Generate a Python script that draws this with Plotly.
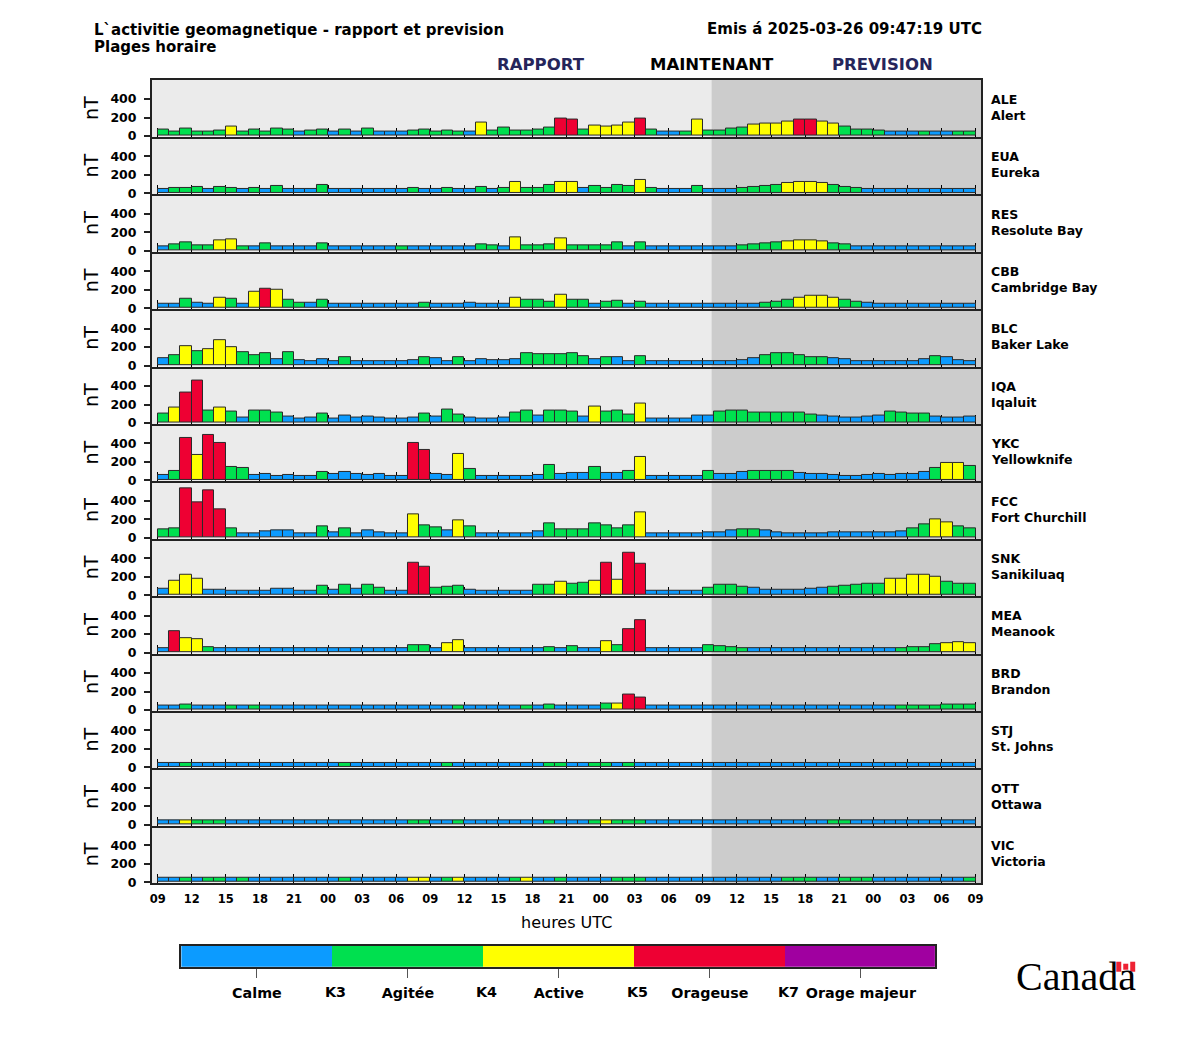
import plotly.graph_objects as go

CODES = ["ALE", "EUA", "RES", "CBB", "BLC", "IQA", "YKC", "FCC", "SNK", "MEA", "BRD", "STJ", "OTT", "VIC"]
NAMES = ["Alert", "Eureka", "Resolute Bay", "Cambridge Bay", "Baker Lake", "Iqaluit", "Yellowknife",
         "Fort Churchill", "Sanikiluaq", "Meanook", "Brandon", "St. Johns", "Ottawa", "Victoria"]
HOURS = ["09", "12", "15", "18", "21", "00", "03", "06", "09", "12", "15", "18", "21", "00", "03", "06",
         "09", "12", "15", "18", "21", "00", "03", "06", "09"]
NOW_POS = 48.77
ALE = [70,50,80,50,50,60,100,50,70,50, 80,70,50,60,70,50,70,50,80,50, 50,50,60,70,50,60,50,50,145,60,
       90,60,60,75,90,190,180,65,110,100, 110,150,190,65,50,50,50,175,60,60, 80,90,120,130,140,160,180,180,160,130,
       100,75,65,55,50,50,50,50,50,50,50,50]
ALE_K = "GGGGGGYGGG GGBGGBGBGB BBGGGGGBYG GGGGGRRGYY YYRGBBGYGG GGYYYYRRYY GGGGBBBGBB GG"
EUA = [50,60,60,70,50,70,60,50,60,50, 80,50,50,50,90,50,50,50,50,50, 50,50,60,50,50,60,50,50,70,50,
       60,125,60,60,90,125,125,60,85,60, 90,85,145,60,50,50,50,85,50,50, 50,60,70,85,90,110,125,125,115,90,
       70,60,50,50,50,50,50,50,50,50,50,50]
EUA_K = "BGGGBGGBGB GBBBGBBBBB BBGBBGBBGB GYGGGYYBGG GGYGBBBGBB BGGGGYYYYG GGBBBBBBBB BB"
RES = [50,70,90,60,60,115,125,50,50,85, 50,50,50,50,85,50,50,50,50,50, 50,50,50,50,50,50,50,50,70,60,
       50,145,60,60,70,135,60,60,60,60, 95,50,95,50,50,50,50,50,50,50, 50,60,70,80,95,105,115,115,105,85,
       65,50,50,50,50,50,50,50,50,50,50,50]
RES_K = "BGGGGYYGBG BBBBGBBBBB BGBBBBBBGG BYGGGYGGGG GBGBBBBBBB BGGGGYYYYG GBBBBBBBBB BB"
CBB = [50,50,105,60,50,115,105,50,180,215, 195,95,60,60,95,50,50,50,50,50, 50,50,50,60,50,50,50,60,50,50,
       50,115,95,95,70,150,95,95,50,65, 85,50,75,50,50,50,50,50,50,50, 50,50,50,60,75,95,115,130,130,115,
       95,75,55,50,50,50,50,50,50,50,50,50]
CBB_K = "BBGBBYGBYR YGGBGBBBBB BBBGBBBBBB BYGGGYGGBG GBGBBBBBBB BBBGGGYYYY GGBBBBBBBB BB"
BLC = [80,110,210,155,175,275,195,145,110,135, 70,145,60,50,70,50,90,50,50,50, 50,50,60,90,80,50,90,50,70,60,
       60,70,130,120,125,125,135,105,70,95, 95,50,100,50,50,50,50,50,50,50, 50,60,80,115,135,135,115,95,95,85,
       70,50,50,50,50,50,50,70,105,95,60,50]
BLC_K = "BGYGYYYGGG BGBBBBGBBB BBBGBBGBBB BBGGGGGGBG BBGBBBBBBB BBBGGGGGGB BBBBBBBBGB BB"
IQA = [105,170,325,460,130,170,125,55,140,130, 115,70,50,60,100,50,85,60,75,60, 50,50,60,105,75,150,95,60,50,50,
       60,115,140,85,140,130,120,65,175,120, 140,95,215,50,50,50,50,85,85,120, 140,130,110,110,110,110,110,95,85,75,
       55,55,65,85,120,110,100,100,65,55,55,65]
IQA_K = "GYRRGYGBGG GBBBGBBBBB BBBGBGGBBB BGGBGGGBYG GGYBBBBBBG GGGGGGGGBB BBBBGGGGBB BB"
YKC = [60,100,460,270,490,400,150,135,55,70, 50,60,50,50,95,70,90,70,60,70, 50,50,405,330,70,60,290,125,50,50,
       50,50,50,60,165,65,85,85,150,85, 85,105,250,50,50,50,50,50,105,65, 65,90,105,105,105,105,85,65,65,55,
       50,50,60,65,55,65,70,90,135,190,190,155]
YKC_K = "BGRYRRGGBB BBBBGBBBBB BBRRBBYGBB BBBBGBBBGB BGYBBBBBGB BBGGGGBBBB BBBBBBBBGY YG"
FCC = [90,105,530,385,510,310,105,50,50,70, 80,80,50,50,125,60,105,50,85,60, 50,50,255,140,115,85,190,125,50,50,
       50,50,50,70,160,95,95,95,160,140, 105,140,280,50,50,50,50,50,60,60, 85,95,95,85,60,50,50,50,50,60,
       60,60,60,60,60,75,105,150,205,170,125,105]
FCC_K = "GGRRRRGBBB BBBBGBGBBB BBYGGBYGBB BBBBGGGGGG GGYBBBBBBB BGGBBBBBBB BBBBBBGGYY GG"
SNK = [70,160,225,180,60,60,50,50,50,50, 70,70,50,50,105,60,115,70,115,80, 50,50,355,310,80,90,105,60,50,50,
       50,50,50,110,110,150,125,130,155,350, 165,460,340,50,50,50,50,50,80,110, 110,90,80,55,55,55,55,70,80,90,
       100,110,120,120,175,175,220,220,200,145,120,120]
SNK_K = "BYYYBBBBBB BBBBGBGBGG BBRRGGGBBB BBBGGYGGYR YRRBBBBBGG GGBBBBBBBG GGGGYYYYYG GG"
MEA = [50,235,160,145,60,50,50,50,50,50, 50,50,50,50,50,50,50,50,50,50, 50,50,85,85,50,105,140,50,50,50,
       50,50,50,50,60,50,75,50,50,120, 85,250,350,50,50,50,50,50,85,75, 60,50,50,50,50,50,50,50,50,50,
       50,50,50,50,50,50,60,60,95,105,115,105]
MEA_K = "BRYYGBBBBB BBBBBBBBBB BBGGBYYBBB BBBBGBGBBY GRRBBBBBGG GGBBBBBBBB BBBBBGGGGY YY"
BRD = [50,50,58,50,50,50,50,50,50,50, 50,50,50,50,50,50,50,50,50,50, 50,50,50,50,50,50,50,50,50,50,
       50,50,50,50,58,50,50,50,50,65, 75,165,140,50,50,50,50,50,50,50, 50,50,50,50,50,50,50,50,50,50,
       50,50,50,50,50,50,50,50,50,58,58,58]
BRD_K = "BBGBBBGBGB BBBBBBBBBB BBBBBBGBBB BBGBGBBBBG YRRBBBBBBB BBBBBBBBBB BBBBBGGGGG GG"
STJ = [50,50,50,50,50,50,50,50,50,50, 50,50,50,50,50,50,50,50,50,50, 50,50,50,50,50,50,50,50,50,50,
       50,50,50,50,50,50,50,50,50,50, 50,50,50,50,50,50,50,50,50,50, 50,50,50,50,50,50,50,50,50,50,
       50,50,50,50,50,50,50,50,50,50,50,50]
STJ_K = "BBGBBBBBBB BBBBBBGBBB BBBBBGBBBB BBBBGGBBGG BGBBBBBBBB BBBBBBBBBB BBBBBBBBBB BB"
OTT = [50,50,50,50,50,50,50,50,50,50, 50,50,50,50,50,50,50,50,50,50, 50,50,50,50,50,50,50,50,50,50,
       50,50,50,50,50,50,50,50,50,50, 50,50,50,50,50,50,50,50,50,50, 50,50,50,50,50,50,50,50,50,50,
       50,50,50,50,50,50,50,50,50,50,50,50]
OTT_K = "BBYGGGBBBB BBBBBBBBBB BBGGBBGBBB BBBBGBBBGY GGGBBBBBBB BBBBBBBBBG GBBBBBBBBB BB"
VIC = [50,50,50,50,50,50,50,50,50,50, 50,50,50,50,50,50,50,50,50,50, 50,50,50,50,50,50,50,50,50,50,
       50,50,50,50,50,50,50,50,50,50, 50,50,50,50,50,50,50,50,50,50, 50,50,50,50,50,50,50,50,50,50,
       50,50,50,50,50,50,50,50,50,50,50,50]
VIC_K = "BBGBGGBGBB BBBBBBGBBB BBYYBGYBBB BGYBBGBBBB GGGBBBBBBB BBBBBGGGBB GGGBBBBBBB BG"

VALUES = [ALE, EUA, RES, CBB, BLC, IQA, YKC, FCC, SNK, MEA, BRD, STJ, OTT, VIC]
LEVELS = [ALE_K, EUA_K, RES_K, CBB_K, BLC_K, IQA_K, YKC_K, FCC_K, SNK_K, MEA_K, BRD_K, STJ_K, OTT_K, VIC_K]
COLORS = {"B": "#0c9bff", "G": "#00e04f", "Y": "#ffff00", "R": "#ee0033", "P": "#a000a0"}
LEGEND_KEYS = ["B", "G", "Y", "R", "P"]
LEGEND_LABELS = ["Calme", "Agitée", "Active", "Orageuse", "Orage majeur"]
LEGEND_BOUNDS = ["K3", "K4", "K5", "K7"]

W, H = 1200, 1050
VSCALE = 1.0065
px = lambda v: v / W
py = lambda v: 1 - v * VSCALE / H
PLOT_L, PLOT_R, PLOT_T, PLOT_B = 150.5, 982.5, 79.5, 882.5
ROW_H = (PLOT_B - PLOT_T) / 14
SPINE = "#222222"

fig = go.Figure()
hours_axis = list(range(72))
centers = [h + 0.5 for h in hours_axis]
layout_axes = {}
for r, (code, name, vals, lev) in enumerate(zip(CODES, NAMES, VALUES, LEVELS)):
    lev = lev.replace(" ", "")
    assert len(vals) == 72 and len(lev) == 72, code
    n = r + 1
    suffix = "" if n == 1 else str(n)
    xn, yn = f"x{suffix}", f"y{suffix}"
    xk, yk = f"xaxis{suffix}", f"yaxis{suffix}"
    fig.add_trace(go.Bar(x=centers, y=vals, width=1, xaxis=xn, yaxis=yn,
                         marker=dict(color=[COLORS[c] for c in lev], line=dict(color="#2a2a2a", width=1)),
                         hoverinfo="skip", showlegend=False))
    top, bot = PLOT_T + r * ROW_H, PLOT_T + (r + 1) * ROW_H
    layout_axes[xk] = dict(domain=[px(PLOT_L), px(PLOT_R)], anchor=yn, range=[-0.5, 72.5],
                           tickmode="array", tickvals=[3 * i for i in range(25)],
                           ticktext=HOURS if r == 13 else [""] * 25,
                           ticks="inside", ticklen=9, tickwidth=1, tickcolor="#000000",
                           showgrid=False, zeroline=False, showline=True, linecolor=SPINE, linewidth=2,
                           mirror=(r == 0), layer="below traces", ticklabelstandoff=4,
                           tickangle=0,
                           tickfont=dict(family="DejaVu Sans", size=11.5, color="#000000", weight="bold"))
    layout_axes[yk] = dict(domain=[py(bot), py(top)], anchor=xn, range=[-10, 610],
                           tickmode="array", tickvals=[0, 200, 400], ticktext=["0", "200", "400"],
                           ticks="outside", ticklen=6, tickwidth=2, tickcolor=SPINE, ticklabelstandoff=5,
                           showgrid=False, zeroline=False, showline=True, linecolor=SPINE, linewidth=2,
                           mirror=True, layer="below traces",
                           title=dict(text="nT", standoff=7, font=dict(family="DejaVu Sans", size=19, color="#000000")),
                           tickfont=dict(family="DejaVu Sans", size=12.5, color="#000000", weight="bold"))
    fig.add_shape(type="rect", xref=xn, yref=f"{yn} domain", x0=NOW_POS, x1=72.5, y0=0, y1=1,
                  fillcolor="#cccccc", line_width=0, layer="below")
    fig.add_annotation(xref="paper", yref="paper", x=px(990), y=py(top + ROW_H / 2 - 1), xanchor="left", yanchor="middle",
                       align="left", showarrow=False, text=f"{code}<br>{name}",
                       font=dict(family="DejaVu Sans", size=12.5, color="#000000", weight="bold"))

# colour key: its own small axes
fig.add_trace(go.Bar(x=[i + 0.5 for i in range(5)], y=[1] * 5, width=1, xaxis="x15", yaxis="y15",
                     marker=dict(color=[COLORS[k] for k in LEGEND_KEYS], line_width=0),
                     hoverinfo="skip", showlegend=False))
layout_axes["xaxis15"] = dict(domain=[px(180), px(936)], anchor="y15", range=[0, 4.99],
                              tickmode="array", tickvals=[i + 0.5 for i in range(5)], ticktext=LEGEND_LABELS,
                              ticks="outside", ticklen=9, tickwidth=1, tickcolor="#555555", ticklabelstandoff=3,
                              showgrid=False, zeroline=False, showline=True, linecolor=SPINE, linewidth=2, mirror=True,
                              tickfont=dict(family="DejaVu Sans", size=14.3, color="#000000", weight="bold"))
layout_axes["yaxis15"] = dict(domain=[py(966), py(945)], anchor="x15", range=[0, 1], showticklabels=False,
                              ticks="", showgrid=False, zeroline=False, showline=True, linecolor=SPINE, linewidth=2, mirror=True)
for i, lab in enumerate(LEGEND_BOUNDS):
    fig.add_annotation(xref="x15", yref="paper", x=i + 1.02, y=py(991), xanchor="center", yanchor="middle",
                       showarrow=False, text=lab,
                       font=dict(family="DejaVu Sans", size=14.3, color="#000000", weight="bold"))


def txt(x, y, s, size, color="#000000", anchor="left", weight="bold", family="DejaVu Sans"):
    fig.add_annotation(xref="paper", yref="paper", x=px(x), y=py(y), xanchor=anchor, yanchor="middle",
                       showarrow=False, text=s, font=dict(family=family, size=size, color=color, weight=weight))


txt(90, 30, "L`activitie geomagnetique - rapport et prevision", 15)
txt(90, 47, "Plages horaire", 15)
txt(985, 29, "Emis á 2025-03-26 09:47:19 UTC", 15, anchor="right")
txt(541, 64, "RAPPORT", 16.5, "#25255a", "center")
txt(712, 64, "MAINTENANT", 16.5, "#000000", "center")
txt(883, 64, "PREVISION", 16.5, "#25255a", "center")
txt(566, 922, "heures UTC", 16, anchor="center", weight="normal")
txt(1078, 976, "Canada", 40, anchor="center", weight="normal", family="Liberation Serif")
fig.add_shape(type="rect", xref="paper", yref="paper", x0=px(1118), x1=px(1137), y0=py(971), y1=py(961),
              fillcolor="#ffffff", line_width=0)
fig.add_shape(type="rect", xref="paper", yref="paper", x0=px(1118), x1=px(1123), y0=py(971), y1=py(961),
              fillcolor="#ee2233", line_width=0)
fig.add_shape(type="rect", xref="paper", yref="paper", x0=px(1132), x1=px(1137), y0=py(971), y1=py(961),
              fillcolor="#ee2233", line_width=0)
fig.add_shape(type="rect", xref="paper", yref="paper", x0=px(1125), x1=px(1130), y0=py(969), y1=py(963),
              fillcolor="#ee2233", line_width=0)

fig.update_layout(width=W, height=H, margin=dict(l=0, r=0, t=0, b=0), paper_bgcolor="#ffffff",
                  plot_bgcolor="#ebebeb", bargap=0, showlegend=False, **layout_axes)
fig.write_html("out.html", config={"responsive": False, "displayModeBar": False},
               post_script="document.body.style.margin='0';document.body.style.overflow='hidden';")
